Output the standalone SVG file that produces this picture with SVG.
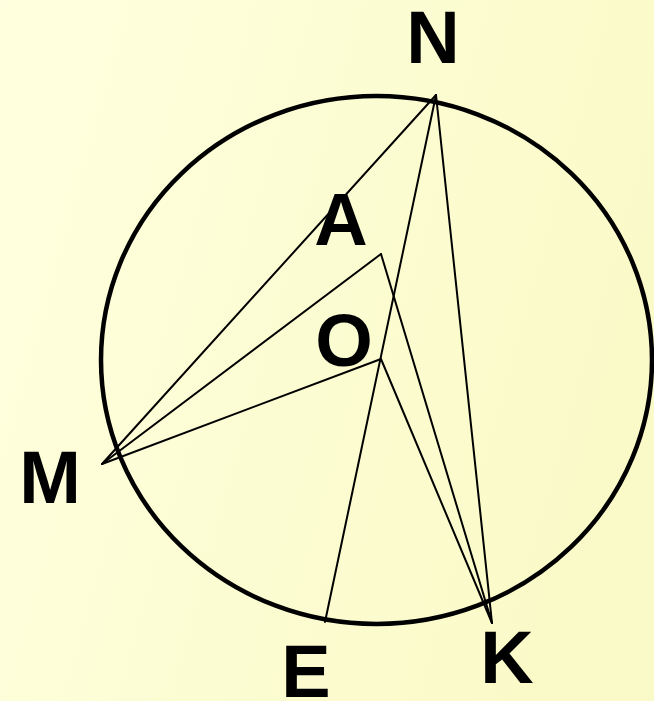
<svg xmlns="http://www.w3.org/2000/svg" width="654" height="701" viewBox="0 0 654 701">
<defs>
<linearGradient id="bg" x1="0" y1="0" x2="1" y2="0.3">
<stop offset="0" stop-color="#FFFFDF"/>
<stop offset="1" stop-color="#FAFAC9"/>
</linearGradient>
<style>
.lbl{font-family:"Liberation Sans",Arial,sans-serif;font-weight:bold;font-size:74px;fill:#000;text-anchor:middle}
.seg{stroke:#000;stroke-width:2;fill:none;stroke-linecap:round}
</style>
</defs>
<rect width="654" height="701" fill="url(#bg)"/>
<g id="circle"><ellipse cx="376.5" cy="360" rx="275.5" ry="264" fill="none" stroke="#000" stroke-width="4.5"/></g>
<g id="connectors">
<line class="seg" x1="436" y1="95" x2="102" y2="464"/>
<line class="seg" x1="436" y1="95" x2="325" y2="622"/>
<line class="seg" x1="436" y1="95" x2="492" y2="623"/>
<line class="seg" x1="381" y1="254" x2="102" y2="464"/>
<line class="seg" x1="381" y1="254" x2="492" y2="623"/>
<line class="seg" x1="381" y1="359" x2="102" y2="464"/>
<line class="seg" x1="381" y1="359" x2="492" y2="623"/>
</g>
<g id="N"><text class="lbl" x="433" y="63">N</text></g>
<g id="A"><text class="lbl" x="341" y="245">A</text></g>
<g id="O"><text class="lbl" x="344" y="366">O</text></g>
<g id="M"><text class="lbl" x="50" y="503">M</text></g>
<g id="E"><text class="lbl" x="306" y="697">E</text></g>
<g id="K"><text class="lbl" x="507" y="683">K</text></g>
</svg>
